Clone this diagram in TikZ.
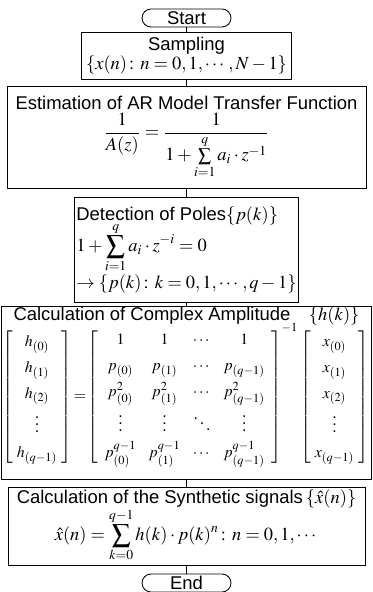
\documentclass[tikz,border=0pt]{standalone}
\usepackage{amsmath,amssymb}
\usepackage{mathptmx}
\usepackage[no-math]{fontspec}
\setmainfont{Liberation Sans}
\usepackage{tikz}
\usetikzlibrary{positioning}

\begin{document}
\begin{tikzpicture}[font=\fontsize{10.5}{12}\selectfont,
  box/.style={draw,line width=0.5pt,inner sep=0pt,align=center},
  term/.style={box,rounded corners=0.18cm,minimum width=1.78cm,minimum height=0.36cm},
  ln/.style={line width=0.5pt}]
\useasboundingbox (0,0) rectangle (7.46,-11.84);
\node[term] (start) at (3.73,-0.36) {Start};
\node[box,minimum width=4.2cm,minimum height=0.94cm] (smp) at (3.73,-1.11)
  {Sampling\\[-1pt]$\{x(n)\colon n=0,1,\cdots,N-1\}$};
\node[box,minimum width=7.18cm,minimum height=2.04cm] (est) at (3.73,-2.74)
  {Estimation of AR Model Transfer Function\\[1pt]
   $\displaystyle\frac{1}{A(z)}=\frac{1}{1+\sum\limits_{i=1}^{q}a_i\cdot z^{-1}}$};
\node[box,minimum width=4.48cm,minimum height=2.1cm,align=left] (det) at (3.73,-4.99)
  {Detection of Poles$\{p(k)\}$\\[-2pt]
   $\displaystyle 1+\sum_{i=1}^{q}a_i\cdot z^{-i}=0$\\[0pt]
   $\rightarrow\{p(k)\colon k=0,1,\cdots,q-1\}$};
\node[box,minimum width=7.4cm,minimum height=3.46cm] (amp) at (3.73,-7.85)
  {Calculation of Complex Amplitude\quad$\{h(k)\}$\\[-2pt]
   {\fontsize{9}{10.5}\selectfont
   $\renewcommand{\arraystretch}{1.4}\setlength{\arraycolsep}{2.5pt}
   \left[\begin{array}{c}h_{(0)}\\h_{(1)}\\h_{(2)}\\\vdots\\h_{(q-1)}\end{array}\right]
   \!=\!\setlength{\arraycolsep}{3.5pt}
   \left[\begin{array}{cccc}1&1&\cdots&1\\
     p_{(0)}&p_{(1)}&\cdots&p_{(q-1)}\\
     p_{(0)}^{2}&p_{(1)}^{2}&\cdots&p_{(q-1)}^{2}\\
     \vdots&\vdots&\ddots&\vdots\\
     p_{(0)}^{q-1}&p_{(1)}^{q-1}&\cdots&p_{(q-1)}^{q-1}\end{array}\right]^{-1}
   \setlength{\arraycolsep}{2.5pt}
   \left[\begin{array}{c}x_{(0)}\\x_{(1)}\\x_{(2)}\\\vdots\\x_{(q-1)}\end{array}\right]
   \rule[-44pt]{0pt}{1pt}$}};
\node[box,minimum width=7.14cm,minimum height=1.56cm] (syn) at (3.73,-10.52)
  {Calculation of the Synthetic signals\,$\{\hat{x}(n)\}$\\[-1pt]
   $\displaystyle\hat{x}(n)=\sum_{k=0}^{q-1}h(k)\cdot p(k)^{n}\colon n=0,1,\cdots$};
\node[term] (end) at (3.73,-11.66) {End};
\draw[ln] (start) -- (smp); \draw[ln] (smp) -- (est); \draw[ln] (est) -- (det);
\draw[ln] (det) -- (amp); \draw[ln] (amp) -- (syn); \draw[ln] (syn) -- (end);
\end{tikzpicture}
\end{document}
